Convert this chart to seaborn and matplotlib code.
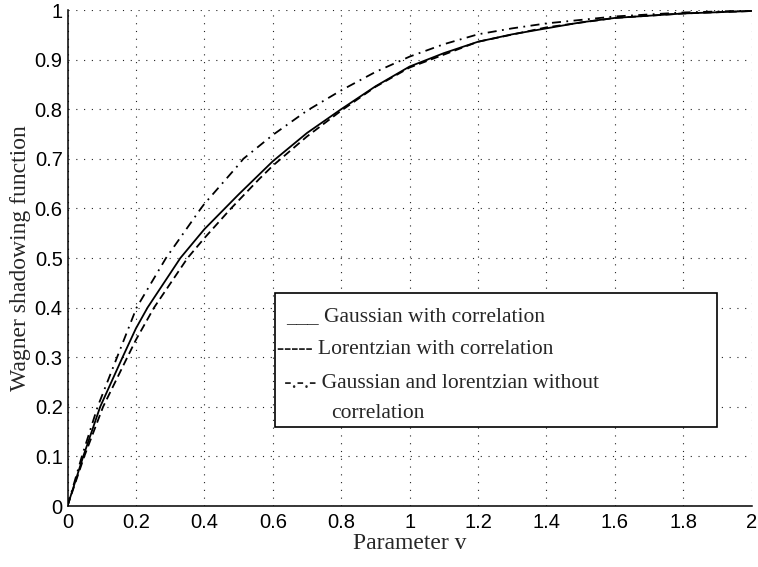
import matplotlib
matplotlib.use("Agg")
import matplotlib.pyplot as plt
import seaborn as sns
import numpy as np
from matplotlib.patches import Rectangle

# ---- data ----
gauss_x = [0, 0.046, 0.0955, 0.161, 0.2, 0.234, 0.33, 0.4, 0.46, 0.5, 0.6, 0.7,
           0.8, 0.9, 1.0, 1.1, 1.2, 1.3, 1.4, 1.5, 1.6, 1.8, 2.0]
gauss_y = [0, 0.1, 0.2, 0.3, 0.358, 0.4, 0.5, 0.558, 0.6, 0.628, 0.695, 0.752,
           0.80, 0.846, 0.886, 0.913, 0.936, 0.951, 0.963, 0.975, 0.984, 0.993, 0.998]

lorentz_x = [0, 0.049, 0.104, 0.175, 0.2, 0.253, 0.351, 0.4, 0.478, 0.56, 0.6,
             0.7, 0.8, 0.9, 1.0, 1.2, 1.4, 1.6, 1.8, 2.0]
lorentz_y = [0, 0.1, 0.2, 0.3, 0.335, 0.4, 0.5, 0.54, 0.6, 0.659, 0.686,
             0.745, 0.797, 0.845, 0.884, 0.936, 0.965, 0.984, 0.993, 0.998]

nocorr_x = [0, 0.042, 0.088, 0.145, 0.202, 0.288, 0.39, 0.4, 0.5, 0.514, 0.6,
            0.7, 0.8, 0.9, 1.0, 1.1, 1.2, 1.3, 1.4, 1.6, 1.8, 2.0]
nocorr_y = [0, 0.1, 0.2, 0.3, 0.4, 0.5, 0.6, 0.609, 0.688, 0.7, 0.748,
            0.797, 0.838, 0.875, 0.906, 0.931, 0.951, 0.963, 0.973, 0.987, 0.995, 0.999]

x_ticks = [0, 0.2, 0.4, 0.6, 0.8, 1, 1.2, 1.4, 1.6, 1.8, 2]
x_tick_labels = ["0", "0.2", "0.4", "0.6", "0.8", "1", "1.2", "1.4", "1.6", "1.8", "2"]
y_ticks = [0, 0.1, 0.2, 0.3, 0.4, 0.5, 0.6, 0.7, 0.8, 0.9, 1]
y_tick_labels = ["0", "0.1", "0.2", "0.3", "0.4", "0.5", "0.6", "0.7", "0.8", "0.9", "1"]

legend_lines = ["___ Gaussian with correlation",
                "----- Lorentzian with correlation",
                " -.-.- Gaussian and lorentzian without",
                "correlation"]

sns.set_style("white")
plt.rcParams['font.family'] = ['Liberation Serif', 'DejaVu Serif']

W, H = 758, 567
fig = plt.figure(figsize=(W / 100, H / 100), dpi=100)
L, R, T, B = 67.5, 751.7, 10, 506
ax = fig.add_axes([L / W, 1 - B / H, (R - L) / W, (B - T) / H])

lw = 1.3
sns.lineplot(x=gauss_x, y=gauss_y, ax=ax, color="black", lw=lw, linestyle="-",
             sort=False, legend=False)
sns.lineplot(x=lorentz_x, y=lorentz_y, ax=ax, color="black", lw=lw,
             linestyle=(0, (4.5, 2.5)), sort=False, legend=False)
sns.lineplot(x=nocorr_x, y=nocorr_y, ax=ax, color="black", lw=lw,
             linestyle=(0, (5, 3, 1, 3)), sort=False, legend=False)

ax.set_xlim(0, 2)
ax.set_ylim(0, 1)
ax.set_xticks(x_ticks)
ax.set_xticklabels(x_tick_labels)
ax.set_yticks(y_ticks)
ax.set_yticklabels(y_tick_labels)
for lab in ax.get_xticklabels() + ax.get_yticklabels():
    lab.set_fontfamily("Liberation Sans")
    lab.set_fontsize(14.5)
ax.tick_params(axis="x", direction="in", length=4.5, width=1, pad=5, colors="black")
ax.tick_params(axis="y", direction="in", length=4.5, width=1, pad=3.5, colors="black")

ax.grid(True, color="#222222", linewidth=0.8, linestyle=(0, (1, 6)))
for s in ["top", "right"]:
    ax.spines[s].set_visible(False)
for s in ["left", "bottom"]:
    ax.spines[s].set_color("black")
    ax.spines[s].set_linewidth(1.1)

ax.set_xlabel("Parameter v", fontsize=17)
ax.set_ylabel("Wagner shadowing function", fontsize=17)
ax.xaxis.set_label_coords(0.5, (B - 533) / (B - T))
ax.yaxis.set_label_coords((31 - L) / (R - L), 0.5)

# legend box
bx0, bx1, by0, by1 = 275, 717, 293, 427
fig.patches.append(Rectangle((bx0 / W, 1 - by1 / H), (bx1 - bx0) / W, (by1 - by0) / H,
                             transform=fig.transFigure, facecolor="white",
                             edgecolor="black", linewidth=1.2, zorder=5))
text_pos = [(286, 317), (277, 350), (279, 383), (331, 413)]
for s, (tx, ty) in zip(legend_lines, text_pos):
    fig.text(tx / W, 1 - ty / H, s, fontsize=15.5, ha="left", va="center", zorder=6)

fig.savefig("out.png", dpi=100)
